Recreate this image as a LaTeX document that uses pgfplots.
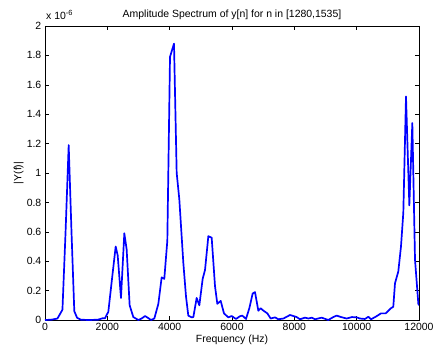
\documentclass[border=0pt]{standalone}
\usepackage{fontspec}
\setmainfont{Liberation Sans}
\usepackage{pgfplots}
\pgfplotsset{compat=1.18}
\begin{document}
\fontsize{10.5}{12.5}\selectfont
\begin{tikzpicture}
\begin{axis}[
  scale only axis,
  width=374bp, height=294bp,
  xmin=0, xmax=12000, ymin=0, ymax=2,
  xtick={0,2000,4000,6000,8000,10000,12000},
  ytick={0,0.2,0.4,0.6,0.8,1,1.2,1.4,1.6,1.8,2},
  yticklabels={0,0.2,0.4,0.6,0.8,1,1.2,1.4,1.6,1.8,2},
  scaled x ticks=false,
  xticklabel style={/pgf/number format/.cd,fixed,1000 sep={}},
  /pgf/number format/assume math mode=true,
  tick align=inside,
  major tick length=4.5bp,
  minor tick num=0,
  axis line style={black, line width=0.6pt},
  tick style={black, line width=0.5pt},
  title={Amplitude Spectrum of y[n] for n in [1280,1535]},
  title style={yshift=-3bp},
  xlabel={Frequency (Hz)},
  ylabel={|Y(f)|},
  xlabel style={yshift=3bp},
  ylabel style={yshift=-4bp},
  tick label style={font=\fontsize{10.5}{12}\selectfont},
  clip=true,
]
\addplot[blue, line width=1.7pt, line join=round] coordinates {
(0,0) (200,0.002) (400,0.01) (560,0.07) (660,0.6) (760,1.19) (850,0.6) (940,0.06)
(1030,0.015) (1150,0.002) (1400,0) (1700,0.002) (1850,0.012) (1925,0.012) (2032,0.056)
(2150,0.28) (2268,0.50) (2332,0.44) (2438,0.15) (2545,0.59) (2620,0.48) (2716,0.10)
(2834,0.02) (2994,0) (3100,0.01) (3209,0.027) (3300,0.015) (3401,0) (3508,0.01)
(3637,0.11) (3743,0.29) (3828,0.28) (3925,0.54) (4011,1.79) (4139,1.88) (4225,1.00)
(4310,0.82) (4438,0.39) (4524,0.16) (4598,0.03) (4706,0.018) (4760,0.02) (4866,0.15)
(4952,0.10) (5059,0.28) (5134,0.34) (5241,0.57) (5348,0.56) (5455,0.23) (5529,0.11)
(5637,0.13) (5743,0.045) (5882,0.018) (5990,0.027) (6128,0.007) (6250,0.025) (6331,0.03)
(6449,0.007) (6556,0.08) (6663,0.18) (6738,0.19) (6845,0.063) (6920,0.08) (7000,0.065)
(7134,0.045) (7241,0.01) (7380,0.018) (7487,0.005) (7650,0.01) (7861,0.034) (8000,0.025)
(8075,0.02) (8182,0.005) (8342,0.016) (8450,0.01) (8556,0.016) (8663,0.005) (8877,0.016)
(9090,0) (9250,0.02) (9358,0.03) (9500,0.02) (9679,0.01) (9850,0.02) (10000,0.018)
(10107,0.01) (10267,0.007) (10374,0.022) (10460,0.005) (10610,0.022) (10781,0.045)
(10930,0.045) (11100,0.08) (11175,0.09) (11230,0.25) (11336,0.33) (11422,0.50)
(11497,0.73) (11583,1.52) (11690,0.78) (11786,1.34) (11872,0.41) (11979,0.11) (12000,0.10)
};
\end{axis}
\node[anchor=base west, inner sep=0pt, font=\fontsize{10.5}{12}\selectfont] at ([xshift=1bp,yshift=6bp]current axis.north west) {x 10\raisebox{0.9ex}{\fontsize{7.5}{8}\selectfont -6}};
\pgfresetboundingbox
\path ([xshift=-45bp,yshift=-34bp]current axis.south west) rectangle ([xshift=16bp,yshift=26bp]current axis.north east);
\end{tikzpicture}
\end{document}
